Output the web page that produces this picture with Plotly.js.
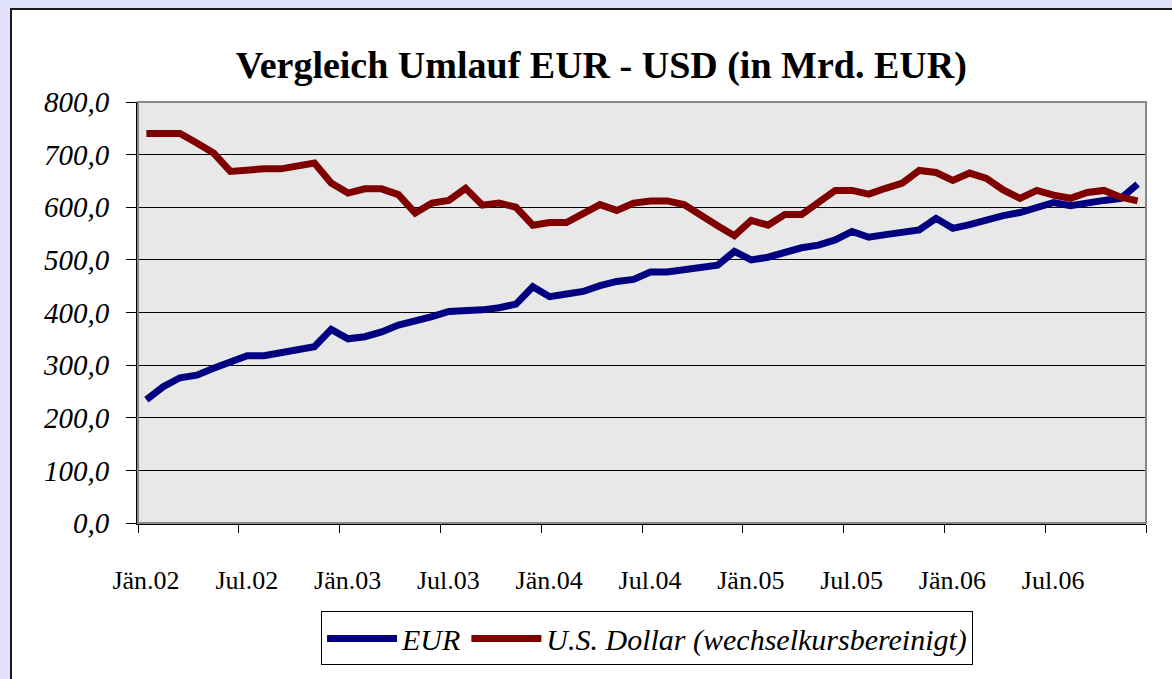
<!DOCTYPE html>
<html><head><meta charset="utf-8">
<script src="https://cdn.plot.ly/plotly-3.0.1.min.js"></script>
<style>
body{margin:0;background:#e1e1fa;width:1172px;height:679px;overflow:hidden;}
#wrap{position:absolute;left:10px;top:8px;border-top:2px solid #1a1a1a;border-left:2px solid #1a1a1a;background:#fff;}
#chart{width:1160px;height:669px;}
</style></head><body><div id="wrap"><div id="chart"></div></div>
<script>
const monthNames = ['Jän','Feb','Mär','Apr','Mai','Jun','Jul','Aug','Sep','Okt','Nov','Dez'];
const years = ['02','03','04','05','06'];
const categories = [];
years.forEach(y => monthNames.forEach(m => categories.push(m + '.' + y)));

const eur = [234,259,276,281,294,305,318,318,323,331,335,368,350,354,363,376,383,392,402,402,
             405,409,416,449,430,435,440,451,459,463,477,477,482,487,490,516,500,505,515,523,
             528,538,554,543,548,552,557,579,560,567,576,584,590,599,609,603,609,613,617,644];
const usd = [740,740,740,722,703,668,672,673,673,677,684,646,627,635,635,624,589,608,613,636,
             604,608,600,566,571,571,589,605,594,608,612,612,605,584,565,546,575,566,586,586,
             608,632,632,625,636,646,670,666,651,665,655,633,617,632,623,617,628,632,619,612];
const tickLabels = ['Jän.02','Jul.02','Jän.03','Jul.03','Jän.04','Jul.04','Jän.05','Jul.05','Jän.06','Jul.06',''];

const idx = categories.map((c, i) => i);
const tickVals = [];
for (let i = 0; i <= categories.length; i += 6) tickVals.push(i - 0.5);

const serif = 'Liberation Serif, Times New Roman, serif';
const traces = [
  {x: idx, y: eur, text: categories, name: 'EUR', type: 'scatter', mode: 'lines',
   line: {color: '#000080', width: 7}},
  {x: idx, y: usd, text: categories, name: 'U.S. Dollar (wechselkursbereinigt)', type: 'scatter', mode: 'lines',
   line: {color: '#800000', width: 7}}
];
const layout = {
  width: 1160, height: 669,
  margin: {l: 126, r: 26, t: 92, b: 156},
  paper_bgcolor: '#ffffff', plot_bgcolor: '#e8e8e8',
  separators: ',.',
  title: {text: 'Vergleich Umlauf EUR - USD (in Mrd. EUR)', x: 0.508, xanchor: 'center', y: 0.918, yanchor: 'middle',
          font: {family: serif, size: 38, weight: 'bold', color: '#000'}},
  xaxis: {range: [-0.5, 59.5], tickmode: 'array', tickvals: tickVals, ticktext: tickLabels,
          ticks: 'outside', ticklen: 8, tickcolor: '#000', tickwidth: 1,
          showgrid: false, zeroline: false, showline: true, linecolor: '#000', linewidth: 2,
          ticklabelshift: 8, ticklabelstandoff: 25,
          tickfont: {family: serif, size: 26, color: '#000'}, fixedrange: true},
  yaxis: {range: [0, 800], dtick: 100, tickformat: '.1f',
          ticks: 'outside', ticklen: 10, tickcolor: '#000', tickwidth: 1,
          showgrid: true, gridcolor: '#000', gridwidth: 1, zeroline: false,
          showline: true, linecolor: '#000', linewidth: 2, ticklabelstandoff: 11,
          tickfont: {family: serif, size: 29, style: 'italic', color: '#000'}, fixedrange: true},
  shapes: [{type: 'rect', xref: 'paper', yref: 'paper', x0: 0, x1: 1, y0: 0, y1: 1,
            line: {color: '#888', width: 2}, layer: 'above'}],
  showlegend: true,
  legend: {orientation: 'h', x: 0.505, xanchor: 'center', y: -0.21, yanchor: 'top',
           bordercolor: '#000', borderwidth: 1, bgcolor: '#fff', itemwidth: 70,
           font: {family: serif, size: 30, style: 'italic', color: '#000'}}
};
Plotly.newPlot('chart', traces, layout, {displayModeBar: false, staticPlot: true});
</script></body></html>
